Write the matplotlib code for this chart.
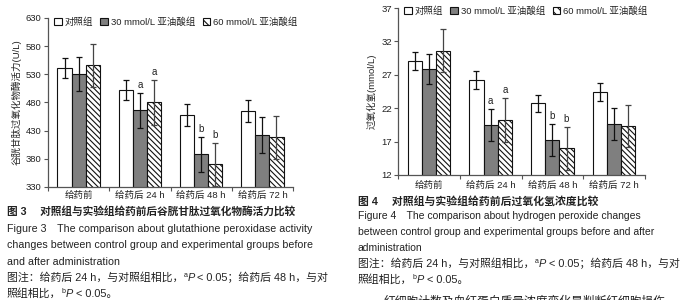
import matplotlib
matplotlib.use("Agg")
import matplotlib.pyplot as plt
from matplotlib.patches import Patch
import numpy as np

plt.rcParams['font.family'] = ['Liberation Sans', 'Noto Sans CJK SC', 'DejaVu Sans']
plt.rcParams['hatch.linewidth'] = 0.8

# ---------------- data ----------------
categories = ["给药前", "给药后 24 h", "给药后 48 h", "给药后 72 h"]
series_names = ["对照组", "30 mmol/L 亚油酸组", "60 mmol/L 亚油酸组"]

gpx_control = [541, 502, 458, 465]
gpx_30 = [531, 466, 388, 422]
gpx_60 = [546, 480, 370, 418]
gpx_control_err = [18, 18, 19, 19]
gpx_30_err = [30, 31, 31, 32]
gpx_60_err = [38, 40, 38, 38]
gpx_letters_30 = ["", "a", "b", ""]
gpx_letters_60 = ["", "a", "b", ""]
gpx_yticks = [330, 380, 430, 480, 530, 580, 630]

h2o2_control = [29.05, 26.2, 22.75, 24.4]
h2o2_30 = [27.85, 19.5, 17.25, 19.65]
h2o2_60 = [30.6, 20.25, 16.0, 19.35]
h2o2_control_err = [1.4, 1.35, 1.3, 1.35]
h2o2_30_err = [2.3, 2.35, 2.4, 2.4]
h2o2_60_err = [3.2, 3.3, 3.2, 3.15]
h2o2_letters_30 = ["", "a", "b", ""]
h2o2_letters_60 = ["", "a", "b", ""]
h2o2_yticks = [12, 17, 22, 27, 32, 37]

W, H = 687, 300
fig = plt.figure(figsize=(W / 100, H / 100), dpi=100)
fig.patch.set_facecolor('white')

TXT = '#222222'
AX = '#555555'


def px_axes(x0, y0, x1, y1):
    return fig.add_axes([x0 / W, 1 - y1 / H, (x1 - x0) / W, (y1 - y0) / H])


def draw(ax, ctrl, s30, s60, ec, e30, e60, l30, l60, yticks, ylabel, legend_xy, label_pad):
    x = np.arange(len(categories))
    bw = 0.23
    ekw = dict(ecolor='#111111', elinewidth=0.9, capsize=2.2, capthick=0.9)
    ax.bar(x - bw, ctrl, bw, color='white', edgecolor='#111111', linewidth=0.8,
           yerr=ec, error_kw=ekw, label=series_names[0], zorder=2)
    ax.bar(x, s30, bw, color='#7f7f7f', edgecolor='#111111', linewidth=0.8,
           yerr=e30, error_kw=ekw, label=series_names[1], zorder=2)
    ax.bar(x + bw, s60, bw, color='white', edgecolor='#111111', linewidth=0.8, hatch='\\\\\\\\\\\\',
           yerr=e60, error_kw=dict(ecolor='#444444', elinewidth=0.9, capsize=2.2, capthick=0.9),
           label=series_names[2], zorder=2)
    for i in range(len(categories)):
        if l30[i]:
            ax.annotate(l30[i], (x[i], s30[i] + e30[i]), xytext=(0, 2), textcoords='offset points',
                        ha='center', va='bottom', fontsize=7, color=TXT)
        if l60[i]:
            ax.annotate(l60[i], (x[i] + bw, s60[i] + e60[i]), xytext=(0, 2), textcoords='offset points',
                        ha='center', va='bottom', fontsize=7, color=TXT)
    ax.set_ylim(yticks[0], yticks[-1])
    ax.set_xlim(-0.5, len(categories) - 0.5)
    ax.set_yticks(yticks)
    ax.set_yticklabels([str(t) for t in yticks], fontsize=6.8, color=TXT)
    ax.set_xticks(np.arange(-0.5, len(categories), 1.0))
    ax.set_xticklabels([])
    ax.set_xticks(x, minor=True)
    ax.set_xticklabels(categories, minor=True, fontsize=6.8, color=TXT)
    ax.tick_params(axis='x', which='minor', length=0, pad=label_pad)
    ax.tick_params(axis='x', which='major', length=3, width=0.8, color=AX, direction='out')
    ax.tick_params(axis='y', length=3, width=0.8, color=AX, pad=1.5)
    for s in ['top', 'right']:
        ax.spines[s].set_visible(False)
    for s in ['left', 'bottom']:
        ax.spines[s].set_color(AX)
        ax.spines[s].set_linewidth(0.9)
    ax.set_ylabel(ylabel, fontsize=6.8, color=TXT, labelpad=3)
    handles = [Patch(facecolor='white', edgecolor='#111111', linewidth=0.8),
               Patch(facecolor='#7f7f7f', edgecolor='#111111', linewidth=0.8),
               Patch(facecolor='white', edgecolor='#111111', linewidth=0.8, hatch='\\\\\\\\')]
    fig.legend(handles, series_names, loc='center left',
               bbox_to_anchor=(legend_xy[0] / W, 1 - legend_xy[1] / H), ncol=3, frameon=False,
               fontsize=6.8, handlelength=0.8, handleheight=0.8, handletextpad=0.3,
               columnspacing=0.8, borderaxespad=0, borderpad=0, labelcolor=TXT)


ax1 = px_axes(48, 18, 293, 187)
draw(ax1, gpx_control, gpx_30, gpx_60, gpx_control_err, gpx_30_err, gpx_60_err,
     gpx_letters_30, gpx_letters_60, gpx_yticks, "谷胱甘肽过氧化物酶活力(U/L)", (54, 22), 3)

ax2 = px_axes(398, 8, 645, 175)
draw(ax2, h2o2_control, h2o2_30, h2o2_60, h2o2_control_err, h2o2_30_err, h2o2_60_err,
     h2o2_letters_30, h2o2_letters_60, h2o2_yticks, "过氧化氢(mmol/L)", (404, 11), 4)

renderer = fig.canvas.get_renderer()


def line(x, y, s, size=7.6, **kw):
    fig.text(x / W, 1 - y / H, s, fontsize=size, color=kw.pop('color', TXT),
             va='baseline', ha='left', **kw)


def rich(x, y, parts, size=7.4):
    """parts: list of (text, kind) where kind in 'n' normal, 's' superscript, 'i' italic"""
    cx = x
    for s, kind in parts:
        fs = size * 0.65 if kind == 's' else size
        dy = -size * 0.55 if kind == 's' else 0
        t = fig.text(cx / W, 1 - (y + dy) / H, s, fontsize=fs, color=TXT, va='baseline', ha='left',
                     fontstyle='italic' if kind == 'i' else 'normal')
        bb = t.get_window_extent(renderer)
        cx += bb.width


def note(x, y1, y2, size):
    rich(x, y1, [("图注：给药后 24 h，与对照组相比，", 'n'), ("a", 's'), ("P", 'i'),
                 (" < 0.05；给药后 48 h，与对", 'n')], size=size)
    rich(x, y2, [("照组相比，", 'n'), ("b", 's'), ("P", 'i'), (" < 0.05。", 'n')], size=size)


line(7, 215, "图 3　 对照组与实验组给药前后谷胱甘肽过氧化物酶活力比较", size=7.7, fontweight='bold')
line(7, 232, "Figure 3　The comparison about glutathione peroxidase activity", size=7.65)
line(7, 248, "changes between control group and experimental groups before", size=7.65)
line(7, 265, "and after administration", size=7.65)
note(7, 281, 297, 7.85)

line(358, 205, "图 4　 对照组与实验组给药前后过氧化氢浓度比较", size=7.8, fontweight='bold')
line(358, 219, "Figure 4　The comparison about hydrogen peroxide changes", size=7.45)
line(358, 235, "between control group and experimental groups before and after", size=7.45)
line(358, 251, "administration", size=7.45)
note(358, 267, 283, 7.8)
line(384, 305, "红细胞计数及血红蛋白质量浓度变化是判断红细胞损伤", size=8.5)

fig.savefig("out.png", dpi=100, facecolor='white')
